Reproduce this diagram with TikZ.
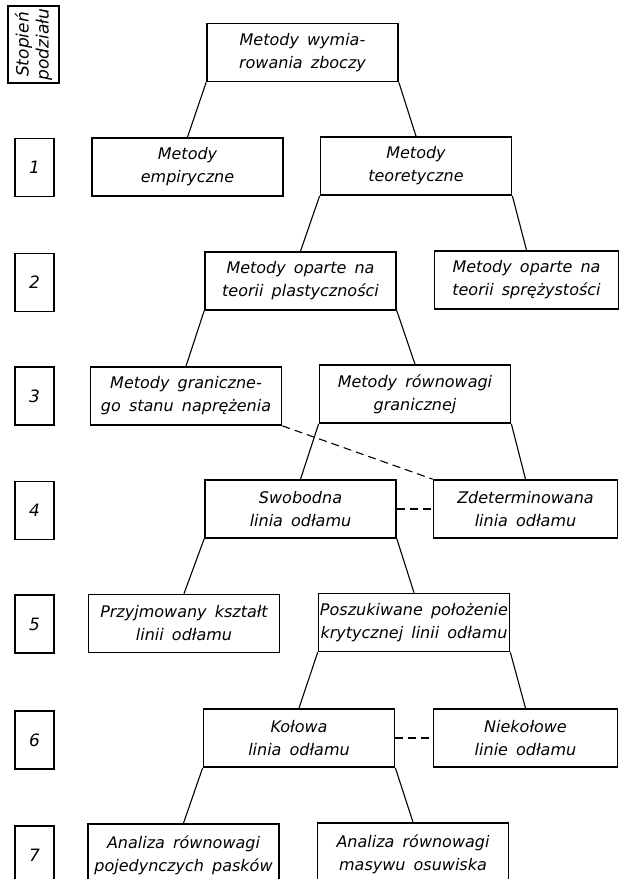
\documentclass[tikz,border=0pt]{standalone}
\usepackage{fontspec}
\setmainfont{DejaVu Sans}[WordSpace=1.6]
\usepackage{tikz}
\usetikzlibrary{positioning}

\tikzset{
  box/.style={draw, line width=1.7pt, align=center, inner sep=0pt,
    minimum width=191, minimum height=58,
    font=\itshape\fontsize{16}{23}\selectfont},
  rbox/.style={box, minimum width=184},
  level/.style={draw, line width=1.7pt, inner sep=0pt,
    minimum width=39, minimum height=58,
    font=\itshape\fontsize{17}{23}\selectfont},
  link/.style={line width=1.1pt},
  same/.style={line width=1.1pt, dash pattern=on 8pt off 5pt}
}

\begin{document}
\begin{tikzpicture}[x=1pt,y=-1pt]
      \useasboundingbox (0,0) rectangle (621,879);

      % stopnie podzialu
      \node[draw, line width=1.7pt, rotate=90, align=center, inner sep=0pt,
            minimum width=77, minimum height=51,
            font=\itshape\fontsize{17}{20}\selectfont] (head) at (33.5,44.5)
            {Stopień\\podziału};
      \node[level] (l1) at (34.5,167.5) {1};
      \node[level] (l2) at (34.5,282.5) {2};
      \node[level] (l3) at (34.5,396)   {3};
      \node[level] (l4) at (34.5,510.5) {4};
      \node[level] (l5) at (34.5,624)   {5};
      \node[level] (l6) at (34.5,740)   {6};
      \node[level] (l7) at (34.5,855)   {7};

      % drzewo metod
      \node[box] (top)  at (302.5,52.5) {Metody wymia-\\rowania zboczy};
      \node[box] (emp)  at (187.5,167)  {Metody\\empiryczne};
      \node[box] (teo)  at (416,166)    {Metody\\teoretyczne};
      \node[box] (plas) at (300.5,281)  {Metody oparte na\\teorii plastyczności};
      \node[rbox] (spr) at (526.5,280)  {Metody oparte na\\teorii sprężystości};
      \node[box] (gran) at (186,396)    {Metody graniczne-\\go stanu naprężenia};
      \node[box] (rown) at (415,394)    {Metody równowagi\\granicznej};
      \node[box] (swob) at (300.5,509)  {Swobodna\\linia odłamu};
      \node[rbox] (zdet) at (525.5,509) {Zdeterminowana\\linia odłamu};
      \node[box] (przy) at (184,623.5)  {Przyjmowany kształt\\linii odłamu};
      \node[box] (posz) at (414,622.5)  {Poszukiwane położenie\\krytycznej linii odłamu};
      \node[box] (kol)  at (299,738)    {Kołowa\\linia odłamu};
      \node[rbox] (niek) at (525.5,738) {Niekołowe\\linie odłamu};
      \node[box, minimum height=62] (an1) at (183.5,855) {Analiza równowagi\\pojedynczych pasków};
      \node[box, minimum height=62] (an2) at (413,854)   {Analiza równowagi\\masywu osuwiska};

      \draw[link] (top.south west)  -- (emp.north);
      \draw[link] (top.south east)  -- (teo.north);
      \draw[link] (teo.south west)  -- (plas.north);
      \draw[link] (teo.south east)  -- (spr.north);
      \draw[link] (plas.south west) -- (gran.north);
      \draw[link] (plas.south east) -- (rown.north);
      \draw[link] (rown.south west) -- (swob.north);
      \draw[link] (rown.south east) -- (zdet.north);
      \draw[link] (swob.south west) -- (przy.north);
      \draw[link] (swob.south east) -- (posz.north);
      \draw[link] (posz.south west) -- (kol.north);
      \draw[link] (posz.south east) -- (niek.north);
      \draw[link] (kol.south west)  -- (an1.north);
      \draw[link] (kol.south east)  -- (an2.north);

      \draw[same] (gran.south east) -- (zdet.north west);
      \draw[same] (swob.east) -- (zdet.west);
      \draw[same] (kol.east)  -- (niek.west);
    \end{tikzpicture}
\end{document}
